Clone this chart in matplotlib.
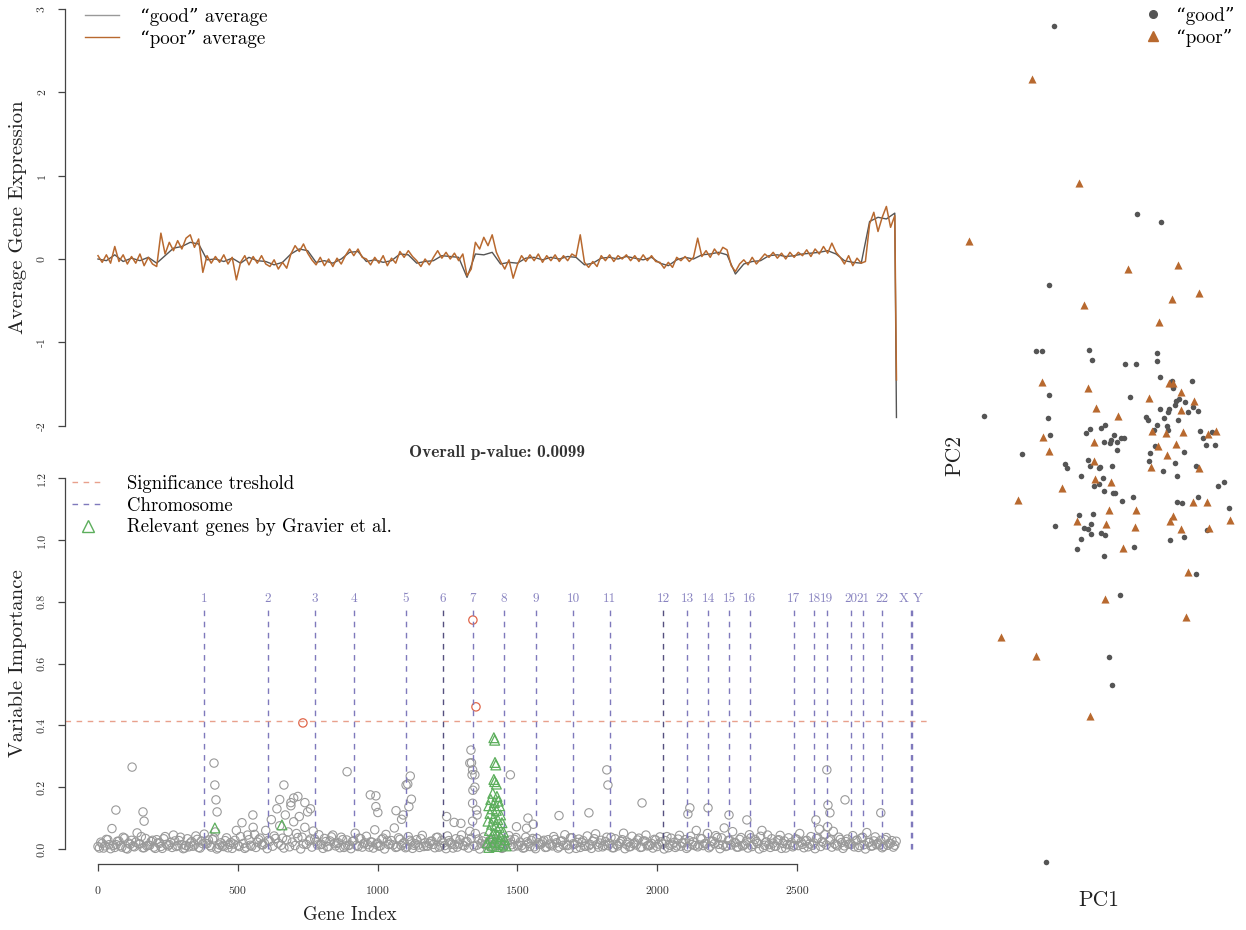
import matplotlib
matplotlib.use("Agg")
import matplotlib.pyplot as plt
from matplotlib.lines import Line2D
import numpy as np

plt.rcParams.update({
    "font.family": ["cmr10", "DejaVu Serif"],
    "axes.unicode_minus": False,
    "axes.formatter.use_mathtext": True,
})

GOOD = "#555555"
POOR = "#B8692F"
CIRC = "#9A9A9A"
RED = "#E0664A"
THR_COL = "#E8A08C"
CHR_COL = "#7F79BC"
GREEN = "#5CAE5C"

# ── data: average expression (poor every 15 genes, good every 30) ────────────
poor_avg = [
    0.04, -0.04, 0.05, -0.05, 0.15, -0.03, 0.05, -0.06, 0.03, -0.05, 0.06, -0.08, 0.02, -0.06, -0.09, 0.31,
    0.06, 0.20, 0.10, 0.22, 0.12, 0.25, 0.29, 0.14, 0.24,
    -0.16,
    0.04, -0.05, 0.03, -0.04, 0.05, -0.06, 0.02, -0.25, -0.04, 0.04,
    -0.07, 0.03, -0.05, 0.04, -0.06, -0.09, -0.01, -0.12, -0.04, -0.11,
    0.06, 0.16, 0.09, 0.18, 0.07,
    -0.01, -0.07, 0.02, -0.08, 0.00, -0.09, 0.01, -0.06, 0.04,
    0.12, 0.04, 0.12, 0.02,
    0.00, -0.07, 0.02, -0.05, 0.04, -0.08, 0.01, -0.05,
    0.09, 0.02, 0.10, 0.03,
    -0.02, -0.09, 0.00, -0.07, 0.02,
    0.10, 0.01, 0.08, 0.00, 0.07, -0.02, 0.06,
    -0.20, -0.12,
    0.20, 0.12, 0.26, 0.16, 0.29, 0.08,
    -0.03, -0.12, -0.01, -0.23, -0.07,
    0.04, -0.03, 0.05, -0.02, 0.06, -0.04, 0.04, -0.02, 0.05, -0.03, 0.04, -0.02, 0.06, 0.03, 0.29,
    -0.04, -0.10, -0.03, -0.09,
    0.04, -0.02, 0.05, -0.03, 0.04, 0.00, 0.05, -0.02, 0.04, -0.03, 0.05, -0.02, 0.04, -0.03,
    -0.04, -0.11, -0.04, -0.10,
    0.02, -0.02, 0.03, -0.03, 0.02, 0.25,
    0.03, 0.10, 0.02, 0.12, 0.05, 0.14, 0.11,
    -0.08, -0.15, -0.06,
    -0.01, -0.07, 0.02, -0.06, 0.00,
    0.06, 0.02, 0.08, 0.01, 0.07, 0.00, 0.08, 0.02,
    0.08, 0.04, 0.11, 0.03, 0.12, 0.06, 0.15, 0.07, 0.19, 0.08,
    0.02, -0.06, 0.04, -0.08, 0.01, -0.05, -0.03,
    0.42, 0.56, 0.33, 0.50, 0.63, 0.38, 0.52,
    -1.45,
]
good_avg = [
    0.00, -0.02, 0.05, -0.03, 0.01, -0.02, 0.02, -0.05, 0.04, 0.13,
    0.15, 0.20, 0.18, -0.01, 0.00, -0.03, 0.01, -0.05, 0.02, -0.02,
    -0.03, -0.07, -0.04, 0.06, 0.12, 0.10, -0.04, -0.02, -0.05, 0.00,
    0.08, 0.09, -0.03, -0.01, -0.04, -0.02, 0.06, 0.05, -0.05, -0.03,
    -0.02, 0.04, 0.03, 0.02, -0.22, 0.06, 0.05, 0.08, -0.06, -0.04,
    -0.05, 0.01, 0.02, -0.01, 0.02, 0.00, 0.03, 0.02, -0.07, -0.05,
    0.01, 0.02, 0.00, 0.03, 0.01, -0.01, 0.02, -0.05, -0.08, -0.01,
    0.02, 0.00, 0.05, 0.06, 0.08, 0.05, -0.18, -0.06, -0.03, -0.02,
    0.04, 0.05, 0.03, 0.04, 0.06, 0.07, 0.08, 0.10, 0.06, -0.02,
    -0.04, -0.05, 0.45, 0.50, 0.48, 0.55,
    -1.90,
]
poor_idx = np.append(np.arange(0, 15 * (len(poor_avg) - 1), 15), 2856)
good_idx = np.append(np.arange(0, 30 * (len(good_avg) - 1), 30), 2856)

# ── data: variable importance (x1000) ────────────────────────────────────────
imp_base = [  # every 10 genes from 0
    8, 22, 3, 31, 14, 66, 5, 25, 11, 38, 2, 19, 28, 7, 52, 16, 4, 34, 12, 24,
    6, 30, 18, 2, 40, 10, 21, 45, 8, 27, 14, 3, 33, 19, 9, 42, 5, 26, 48, 17,
    11, 31, 55, 4, 20, 8, 36, 15, 2, 28, 12, 40, 18, 6, 30, 9, 47, 22, 35, 13,
    60, 28, 95, 42, 130, 75, 35, 110, 55, 150, 88, 50, 105, 38, 70, 120, 32, 58, 24, 46,
    15, 34, 7, 26, 45, 10, 20, 38, 5, 29, 13, 24, 51, 8, 33, 17, 41, 6, 22, 62,
    19, 10, 35, 47, 14, 27, 68, 7, 31, 17, 4, 40, 23, 12, 30, 5, 44, 20, 9, 25,
    15, 37, 6, 28, 11, 42, 21, 3, 33, 16, 45, 10, 24, 57, 90, 50, 32, 18, 39, 13,
    27, 8, 47, 19, 35, 5, 25, 43, 14, 31, 10, 22, 3, 38, 18, 28, 7, 34, 15, 23,
    5, 30, 13, 40, 20, 7, 26, 46, 11, 36, 17, 2, 32, 21, 9, 42, 15, 25, 49, 6,
    28, 12, 38, 18, 4, 33, 10, 24, 51, 15, 7, 41, 20, 29, 5, 25, 45, 12, 18, 31,
    8, 39, 16, 27, 4, 35, 21, 10, 44, 19, 30, 7, 41, 23, 60, 13, 33, 17, 50, 9,
    25, 43, 15, 36, 68, 10, 28, 56, 20, 6, 37, 12, 26, 46, 8, 31, 18, 41, 5, 23,
    14, 33, 9, 28, 44, 18, 3, 36, 21, 11, 31, 50, 15, 26, 7, 40, 20, 34, 64, 24,
    46, 72, 30, 57, 13, 38, 21, 10, 32, 17, 43, 26, 5, 35, 14, 53, 22, 10, 39, 19,
    28, 8, 37, 18, 27, 12,
]
imp_low = [  # every 20 genes from 5
    3, 10, 1, 14, 6, 0, 9, 17, 4, 12, 2, 8, 15, 5, 11, 1, 7, 13, 3, 18,
    6, 0, 10, 4, 16, 8, 2, 12, 5, 14, 1, 9, 19, 3, 7, 11, 0, 15, 6, 13,
    2, 8, 17, 4, 10, 1, 12, 6, 14, 3, 9, 0, 16, 5, 11, 7, 2, 13, 8, 18,
    4, 10, 1, 15, 6, 12, 3, 9, 0, 14, 5, 11, 2, 17, 7, 13, 4, 8, 1, 16,
    6, 10, 3, 12, 0, 15, 5, 9, 2, 14, 7, 11, 4, 18, 1, 8, 13, 6, 10, 3,
    16, 0, 12, 5, 9, 2, 14, 7, 11, 4, 17, 1, 8, 13, 6, 10, 3, 15, 0, 12,
    5, 9, 2, 14, 7, 11, 4, 16, 1, 8, 13, 6, 10, 2, 15, 7, 11, 0, 9, 14,
    4, 12, 6,
]
imp_mid = [  # every 20 genes from 15
    18, 30, 12, 25, 35, 15, 22, 40, 10, 28, 20, 33, 14, 26, 38, 11, 24, 31, 17, 29,
    36, 13, 27, 21, 60, 85, 45, 70, 30, 19, 25, 34, 12, 29, 22, 37, 16, 26, 32, 14,
    24, 39, 18, 30, 11, 27, 35, 20, 23, 15, 31, 26, 13, 36, 21, 28, 17, 33, 10, 25,
    38, 19, 27, 14, 30, 22, 35, 12, 26, 18, 32, 24, 15, 29, 37, 11, 23, 34, 20, 28,
    16, 31, 25, 13, 36, 21, 27, 10, 33, 19, 24, 38, 14, 30, 22, 17, 35, 26, 12, 29,
    23, 40, 15, 32, 20, 27, 11, 34, 18, 25, 37, 13, 28, 21, 31, 16, 36, 24, 60, 45,
    19, 30, 26, 14, 33, 22, 28, 12, 35, 20, 27, 17, 31, 24, 15, 29, 38, 21, 26, 13,
    30, 18, 25,
]
out_gene = [64, 122, 161, 165, 415, 418, 422, 426, 554, 650, 665, 690, 700, 715, 740, 760,
            891, 974, 994, 994, 1001, 1066, 1086, 1092, 1102, 1108, 1112, 1117, 1121,
            1247, 1274, 1298, 1330, 1334, 1336, 1338, 1340, 1341, 1340, 1348, 1348, 1354,
            1356, 1475, 1497, 1533, 1538, 1557, 1649, 1756, 1820, 1824, 1946, 2110, 2117,
            2182, 2257, 2321, 2568, 2607, 2611, 2618, 2672, 2800]
out_imp = [0.126, 0.265, 0.12, 0.09, 0.278, 0.207, 0.159, 0.12, 0.11, 0.16, 0.207, 0.14,
           0.165, 0.17, 0.15, 0.13, 0.25, 0.175, 0.172, 0.137, 0.118, 0.124, 0.096, 0.11,
           0.207, 0.21, 0.137, 0.236, 0.161, 0.105, 0.086, 0.083, 0.278, 0.32, 0.279, 0.24,
           0.256, 0.19, 0.148, 0.2, 0.24, 0.126, 0.11, 0.24, 0.072, 0.067, 0.1, 0.08, 0.108,
           0.117, 0.256, 0.207, 0.149, 0.113, 0.133, 0.133, 0.11, 0.094, 0.094, 0.256,
           0.142, 0.117, 0.159, 0.117]
sig_gene = [733, 1341, 1352]
sig_imp = [0.408, 0.741, 0.46]
rel_gene = [418, 658, 1416, 1419, 1420, 1423, 1416, 1419, 1425, 1412, 1427, 1405, 1432,
            1418, 1398, 1436, 1410, 1425, 1402, 1440, 1415, 1430, 1395, 1445, 1408, 1422,
            1435, 1400, 1450, 1415, 1428, 1440, 1405, 1455, 1420, 1392, 1435, 1448, 1410,
            1460, 1425, 1398]
rel_imp = [0.068, 0.078, 0.36, 0.352, 0.28, 0.272, 0.225, 0.218, 0.21, 0.18, 0.17, 0.16,
           0.155, 0.15, 0.14, 0.14, 0.13, 0.125, 0.115, 0.11, 0.1, 0.095, 0.09, 0.085, 0.08,
           0.075, 0.07, 0.06, 0.055, 0.05, 0.045, 0.04, 0.035, 0.03, 0.025, 0.02, 0.02,
           0.015, 0.012, 0.01, 0.008, 0.005]
threshold = 0.415
chr_pos = [379, 608, 776, 916, 1102, 1234, 1341, 1452, 1567, 1699, 1831, 2021, 2107,
           2182, 2257, 2332, 2489, 2561, 2607, 2693, 2736, 2804, 2908, 2911]
chr_lab = [str(i) for i in range(1, 23)] + ["X", "Y"]

# ── data: PCA scores ─────────────────────────────────────────────────────────
good_pc1 = [-4.6, 3.7, 6.1, -5.1, -6.4, -5.8, -1.1, -0.8, 2.5, 3.6, 5.7, 5.7, 6.0, -5.1,
            3.0, 7.2, 9.2, 7.3, 7.9, 7.6, 7.5, 8.5, 9.3, 9.8, 8.8, 6.9, 6.8, 6.0, 6.4, 7.8,
            4.6, 4.8, 5.7, 6.7, 6.8, 5.4, 10.0, 10.3, 11.2, 10.6, 11.5, 5.5, 8.4, 5.0, 4.9,
            7.5, 6.3, 7.7, 9.6, 12.4, 11.8, 12.9, 9.8, 7.7, 8.2, 10.7, 7.0, 8.4, 9.6, -11.6,
            -5.2, -5.0, -7.8, -4.5, -3.5, -3.3, -1.9, -1.4, -1.0, 0.1, 0.5, 0.4, 1.0, 1.1,
            1.4, 1.7, 2.1, 2.4, 1.7, -1.2, -1.0, -0.1, 0.0, 1.2, 0.3, -0.1, -0.6, 0.4, 1.3,
            1.5, 3.3, 2.2, -2.1, -0.7, -0.9, -1.6, -1.2, 0.1, 0.5, -0.9, -1.9, -2.3, 3.4,
            0.4, 2.0, 0.9, 1.2, -5.4]
good_pc2 = [42.4, 23.6, 22.8, 16.5, 9.9, 9.9, 10.0, 9.0, 8.6, 8.6, 9.7, 8.9, 7.3, 5.5,
            5.3, 6.9, 6.9, 6.2, 5.1, 4.9, 4.5, 4.8, 4.3, 3.9, 3.8, 4.1, 3.8, 4.1, 3.2, 3.0,
            3.3, 3.0, 2.5, 2.4, 2.0, 2.0, 1.9, 1.2, 1.8, 0.5, 0.5, 0.4, -0.2, -0.3, -1.1,
            -1.3, -2.1, -2.6, -1.6, -3.2, -3.6, -5.8, -4.7, -5.2, -5.3, -8.0, -9.0, -8.7,
            -12.4, 3.4, 3.2, 1.5, -0.4, -7.6, -1.4, -1.8, -2.6, 1.7, 2.1, 2.2, 2.5, 0.8, 0.7,
            1.0, 1.5, 0.8, 1.2, 1.2, 0.0, -1.0, -1.6, -1.8, -1.7, -1.6, -2.8, -3.4, -3.6,
            -4.1, -4.3, -4.3, -4.7, -5.1, -6.5, -6.4, -7.4, -7.8, -7.9, -8.3, -8.5, -8.4,
            -8.9, -9.9, -9.7, -10.6, -14.5, -20.7, -23.5, -41.2]
poor_pc1 = [-6.8, -2.1, -13.1, 2.8, 7.8, -1.6, 7.2, 9.9, 5.9, -5.8, -1.2, -0.4, 1.8, 4.9,
            6.9, 7.3, 8.1, 9.4, 8.1, 6.6, 5.2, 8.3, 10.8, 11.6, 7.6, 5.8, 6.7, 5.1, 9.9,
            13.0, 9.3, 10.7, 7.3, 7.0, 8.1, 10.9, 8.8, 8.6, -9.9, -5.7, -5.1, -8.2, -3.8,
            -0.6, -0.6, -0.5, 1.1, 0.9, 3.6, -2.3, 0.6, 3.5, 2.3, 0.5, -6.4, -1.0]
poor_pc2 = [37.1, 26.7, 20.9, 18.1, 18.5, 14.5, 15.1, 15.7, 12.8, 6.8, 6.2, 4.2, 3.4, 5.2,
            6.7, 6.7, 5.8, 4.9, 4.0, 1.7, 1.9, 1.8, 1.6, 1.9, 0.6, 0.4, -0.5, -1.7, -1.8,
            -7.0, -5.2, -5.2, -6.6, -7.1, -7.9, -7.8, -12.2, -16.7, -18.7, 1.3, -0.1, -5.0,
            -3.8, 0.8, -1.1, -2.9, -3.2, -6.0, -6.0, -7.1, -7.4, -7.7, -9.8, -14.9, -20.6,
            -26.6]

W, H = 1246, 930
fig = plt.figure(figsize=(W / 100, H / 100), dpi=100)


def r_axis(ax):
    for s in ("top", "right"):
        ax.spines[s].set_visible(False)
    for s in ("left", "bottom"):
        ax.spines[s].set_color("#444444")
        ax.spines[s].set_linewidth(0.9)
    ax.tick_params(length=5, width=0.9, color="#444444", labelcolor="#333333",
                   labelsize=8.5)


# ── top: average expression ──────────────────────────────────────────────────
ax1 = fig.add_axes([65 / W, 487.5 / H, 865 / W, 450.4 / H])
ax1.plot(good_idx, good_avg, color=GOOD, lw=1.0)
ax1.plot(poor_idx, poor_avg, color=POOR, lw=1.1)
ax1.set_xlim(-118, 2976)
ax1.set_ylim(-2.2, 3.2)
r_axis(ax1)
ax1.spines["bottom"].set_visible(False)
ax1.set_xticks([])
ax1.set_yticks([-2, -1, 0, 1, 2, 3])
ax1.set_yticklabels(["-2", "-1", "0", "1", "2", "3"], rotation=90, va="center")
ax1.tick_params(axis="y", pad=8)
ax1.spines["left"].set_bounds(-2, 3)
ax1.set_ylabel("Average Gene Expression", fontsize=15, color="#222222")
ax1.yaxis.set_label_coords((27 - 65) / 865, 0.5)
ax1.legend(handles=[Line2D([], [], color="#999999", lw=1.0, label="\u201cgood\u201d average"),
                    Line2D([], [], color=POOR, lw=1.0, label="\u201cpoor\u201d average")],
           loc="upper left", bbox_to_anchor=(85 / W, 1 - 8 / H), bbox_transform=fig.transFigure,
           frameon=False, fontsize=13.7, handlelength=1.8, handletextpad=1.1,
           labelspacing=0.2, borderpad=0, borderaxespad=0)

# ── bottom: variable importance ──────────────────────────────────────────────
ax2 = fig.add_axes([65 / W, (H - 863.8) / H, 865 / W, 400.4 / H])
base_idx = np.arange(len(imp_base)) * 10
low_idx = np.arange(len(imp_low)) * 20 + 5
mid_idx = np.arange(len(imp_mid)) * 20 + 15
circ = dict(s=36, facecolors="none", edgecolors=CIRC, linewidths=0.8)
ax2.scatter(base_idx, np.array(imp_base) / 1000, **circ)
ax2.scatter(low_idx, np.array(imp_low) / 1000, **circ)
ax2.scatter(mid_idx, np.array(imp_mid) / 1000, **circ)
ax2.scatter(out_gene, out_imp, **circ)
ax2.scatter(sig_gene, sig_imp, s=36, facecolors="none", edgecolors=RED, linewidths=0.9)
ax2.scatter(rel_gene, rel_imp, s=50, marker="^", facecolors="none", edgecolors=GREEN,
            linewidths=0.9, zorder=3)
ax2.axhline(threshold, color=THR_COL, lw=1.0, dashes=(4, 4))
for p, lab in zip(chr_pos, chr_lab):
    col = "#55507F" if lab in ("6", "12") else CHR_COL
    ax2.vlines(p, 0, 0.79, color=col, lw=1.0, linestyles=(0, (4, 4)))
    shift = {"X": -28, "Y": 22}.get(lab, 0)
    ax2.text(p + shift, 0.81, lab, ha="center", va="center", fontsize=9.5, color="#8883C0")
ax2.set_xlim(-118, 2976)
ax2.set_ylim(-0.048, 1.248)
r_axis(ax2)
ax2.set_yticks([0, 0.2, 0.4, 0.6, 0.8, 1.0, 1.2])
ax2.set_yticklabels(["0.0", "0.2", "0.4", "0.6", "0.8", "1.0", "1.2"], rotation=90, va="center")
ax2.tick_params(axis="y", pad=8)
ax2.set_xticks([0, 500, 1000, 1500, 2000, 2500])
ax2.set_xticklabels(["0", "500", "1000", "1500", "2000", "2500"])
ax2.tick_params(axis="x", pad=11)
ax2.spines["left"].set_bounds(0, 1.2)
ax2.spines["bottom"].set_bounds(0, 2500)
ax2.set_ylabel("Variable Importance", fontsize=15, color="#222222")
ax2.yaxis.set_label_coords((27 - 65) / 865, (863.8 - 663) / 400.4)
ax2.set_xlabel("Gene Index", fontsize=13.5, color="#222222")
ax2.xaxis.set_label_coords((350 - 65) / 865, (863.8 - 906) / 400.4)
ax2.legend(handles=[Line2D([], [], color=THR_COL, lw=1.0, dashes=(4, 4), label="Significance treshold"),
                    Line2D([], [], color=CHR_COL, lw=1.0, dashes=(4, 4), label="Chromosome"),
                    Line2D([], [], color=GREEN, marker="^", ls="none", markersize=8,
                           markerfacecolor="none", label="Relevant genes by Gravier et al.")],
           loc="upper left", bbox_to_anchor=(72 / W, 1 - 475 / H), bbox_transform=fig.transFigure,
           frameon=False, fontsize=13.5, handlelength=1.75, handletextpad=1.2,
           labelspacing=0.2, borderpad=0, borderaxespad=0)
fig.text(497 / W, 1 - 452 / H, "Overall p-value: 0.0099", family=["cmb10", "DejaVu Serif"],
         fontsize=12.5, ha="center", va="center", color="#333333")

# ── right: PCA scatter ───────────────────────────────────────────────────────
ax3 = fig.add_axes([960 / W, 0, 286 / W, 1])
ax3.scatter(good_pc1, good_pc2, s=16, color=GOOD, marker="o", linewidths=0)
ax3.scatter(poor_pc1, poor_pc2, s=34, color=POOR, marker="^", linewidths=0)
ax3.set_xlim(-14, 14.6)
ax3.set_ylim(-48, 45)
ax3.axis("off")
ax3.legend(handles=[Line2D([], [], color=GOOD, marker="o", ls="none", markersize=5.5,
                           label="\u201cgood\u201d"),
                    Line2D([], [], color=POOR, marker="^", ls="none", markersize=7.5,
                           label="\u201cpoor\u201d")],
           loc="upper right", bbox_to_anchor=(1234 / W, 1 - 7 / H), bbox_transform=fig.transFigure,
           frameon=False, fontsize=13.7, handlelength=1.0, handletextpad=0.7,
           labelspacing=0.2, borderpad=0, borderaxespad=0)
fig.text(955 / W, 1 - 455 / H, "PC2", rotation=90, fontsize=15.5, ha="center", va="center",
         color="#222222")
fig.text(1099 / W, 1 - 900 / H, "PC1", fontsize=15.5, ha="center", va="center", color="#222222")

fig.savefig("out.png", dpi=100)
